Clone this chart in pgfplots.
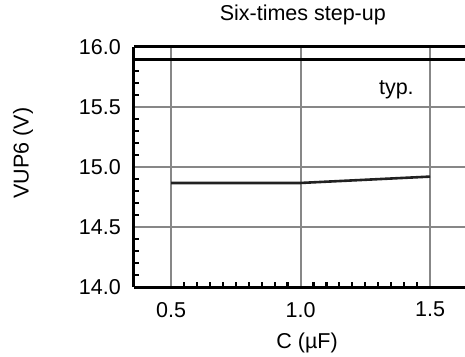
\documentclass[border=0pt]{standalone}
\usepackage{pgfplots}
\pgfplotsset{compat=1.18}
\usepackage{fontspec}
\setmainfont{Liberation Sans}
\definecolor{gridgray}{HTML}{878787}
\begin{document}
\fontsize{21pt}{25pt}\selectfont
\begin{tikzpicture}
\useasboundingbox (-134pt,-69pt) rectangle (331pt,287pt);
\begin{axis}[
  at={(0pt,0pt)}, anchor=south west,
  scale only axis, width=331pt, height=240pt,
  xmin=0.357, xmax=1.635, ymin=14, ymax=16,
  axis x line*=box, axis y line*=left,
  axis line style={line width=3pt, black},
  xtick={0.5,1.0,1.5}, ytick={14,14.5,15,15.5,16},
  minor x tick num=9, minor y tick num=4,
  xtick pos=bottom, ytick pos=left,
  tick align=inside,
  major tick length=0pt, minor tick length=5.5pt,
  minor tick style={line width=2.2pt, black},
  grid=major,
  major grid style={line width=2pt, gridgray},
  /pgf/number format/fixed,
  /pgf/number format/fixed zerofill,
  /pgf/number format/precision=1,
  /pgf/number format/assume math mode=true,
  ticklabel style={font=\fontsize{21.5pt}{25pt}\selectfont},
  xticklabel style={yshift=-8pt},
  yticklabel style={xshift=-6pt},
  label style={font=\fontsize{21.5pt}{25pt}\selectfont},
  xlabel={C (µF)},
  xlabel style={at={(axis description cs:0.523,-0.233)}, anchor=center},
  ylabel={VUP6 (V)},
  ylabel style={at={(axis description cs:-0.335,0.558)}, anchor=center, rotate=0},
  title={Six-times step-up},
  title style={at={(axis description cs:0.51,1.11)}, anchor=center, font=\fontsize{21.5pt}{25pt}\selectfont},
  clip=false,
]
\addplot[line width=2.6pt, black] coordinates {(0.357,15.897) (1.635,15.897)};
\addplot[line width=2.6pt, black!87] coordinates {(0.5,14.867) (1.0,14.867) (1.5,14.92)};
\node[font=\fontsize{21.5pt}{25pt}\selectfont] at (axis cs:1.37,15.64) {typ.};
\end{axis}
\end{tikzpicture}
\end{document}
